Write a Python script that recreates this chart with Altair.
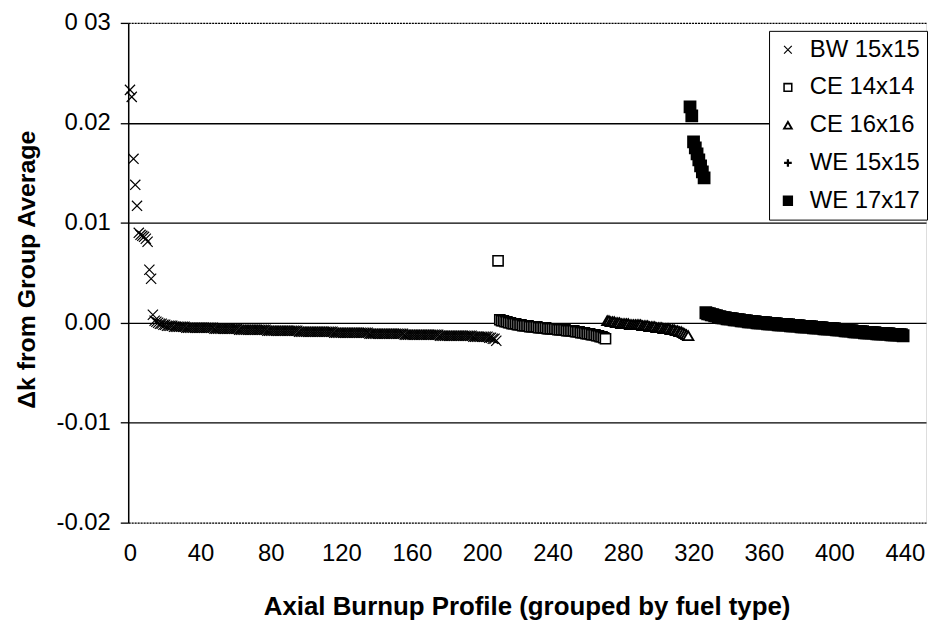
import altair as alt
import pandas as pd

series_names = ["BW 15x15", "CE 14x14", "CE 16x16", "WE 15x15", "WE 17x17"]

# BW 15x15: profiles 0..208
bw_start = 0
bw_values = [
    0.0233, 0.0226, 0.0164, 0.0138, 0.0117, 0.0090, 0.0088, 0.0087, 0.0086, 0.0084,
    0.0081, 0.0053, 0.0044, 0.0008,
    0.0002, 0.0001, 0.0000, -0.0001, -0.0001, -0.0002, -0.0002, -0.0003, -0.0003, -0.0003,
    -0.0003, -0.0004, -0.0004, -0.0004, -0.0004, -0.0004, -0.0004, -0.0004, -0.0005, -0.0005,
    -0.0005, -0.0005, -0.0005, -0.0005, -0.0005, -0.0005, -0.0005, -0.0005, -0.0005, -0.0005,
    -0.0005, -0.0005, -0.0005, -0.0005, -0.0006, -0.0006, -0.0006, -0.0006, -0.0006, -0.0006,
    -0.0006, -0.0006, -0.0006, -0.0006, -0.0006, -0.0006, -0.0006, -0.0006, -0.0007, -0.0007,
    -0.0007, -0.0007, -0.0007, -0.0007, -0.0007, -0.0007, -0.0007, -0.0007, -0.0007, -0.0007,
    -0.0007, -0.0007, -0.0007, -0.0007, -0.0008, -0.0008, -0.0008, -0.0008, -0.0008, -0.0008,
    -0.0008, -0.0008, -0.0008, -0.0008, -0.0008, -0.0008, -0.0008, -0.0008, -0.0008, -0.0008,
    -0.0008, -0.0008, -0.0009, -0.0009, -0.0009, -0.0009, -0.0009, -0.0009, -0.0009, -0.0009,
    -0.0009, -0.0009, -0.0009, -0.0009, -0.0009, -0.0009, -0.0009, -0.0009, -0.0009, -0.0009,
    -0.0009, -0.0009, -0.0010, -0.0010, -0.0010, -0.0010, -0.0010, -0.0010, -0.0010, -0.0010,
    -0.0010, -0.0010, -0.0010, -0.0010, -0.0010, -0.0010, -0.0010, -0.0010, -0.0010, -0.0010,
    -0.0010, -0.0010, -0.0011, -0.0011, -0.0011, -0.0011, -0.0011, -0.0011, -0.0011, -0.0011,
    -0.0011, -0.0011, -0.0011, -0.0011, -0.0011, -0.0011, -0.0011, -0.0011, -0.0011, -0.0011,
    -0.0011, -0.0011, -0.0012, -0.0012, -0.0012, -0.0012, -0.0012, -0.0012, -0.0012, -0.0012,
    -0.0012, -0.0012, -0.0012, -0.0012, -0.0012, -0.0012, -0.0012, -0.0012, -0.0012, -0.0012,
    -0.0012, -0.0012, -0.0013, -0.0013, -0.0013, -0.0013, -0.0013, -0.0013, -0.0013, -0.0013,
    -0.0013, -0.0013, -0.0013, -0.0013, -0.0013, -0.0013, -0.0013, -0.0013, -0.0013, -0.0013,
    -0.0013, -0.0014, -0.0014, -0.0014, -0.0014, -0.0014, -0.0014, -0.0014, -0.0014, -0.0014,
    -0.0015, -0.0015, -0.0016, -0.0016,
    -0.0018,
]

# CE 14x14: profiles 209..270
ce14_start = 209
ce14_values = [
    0.0062,
    0.0003, 0.0002, 0.0002, 0.0001, 0.0001, 0.0000, 0.0000, -0.0001, -0.0001, -0.0001,
    -0.0002, -0.0002, -0.0002, -0.0003, -0.0003, -0.0003, -0.0003, -0.0004, -0.0004, -0.0004,
    -0.0004, -0.0004, -0.0005, -0.0005, -0.0005, -0.0005, -0.0005, -0.0006, -0.0006, -0.0006,
    -0.0006, -0.0006, -0.0006, -0.0007, -0.0007, -0.0007, -0.0007, -0.0007, -0.0008, -0.0008,
    -0.0008, -0.0008, -0.0008, -0.0009, -0.0009, -0.0009, -0.0010, -0.0010, -0.0010, -0.0011,
    -0.0011, -0.0011, -0.0012, -0.0012, -0.0012, -0.0013, -0.0013, -0.0014, -0.0014, -0.0015,
    -0.0016,
]

# CE 16x16: profiles 271..317
ce16_start = 271
ce16_values = [
    0.0002, 0.0002, 0.0001, 0.0001, 0.0001, 0.0000, 0.0000, 0.0000, -0.0001, -0.0001,
    -0.0001, -0.0001, -0.0001, -0.0002, -0.0002, -0.0002, -0.0002, -0.0002, -0.0002, -0.0002,
    -0.0003, -0.0003, -0.0003, -0.0003, -0.0004, -0.0004, -0.0004, -0.0004, -0.0005, -0.0005,
    -0.0005, -0.0005, -0.0006, -0.0006, -0.0006, -0.0006, -0.0007, -0.0007, -0.0007, -0.0008,
    -0.0008, -0.0009, -0.0009, -0.0010, -0.0011, -0.0012, -0.0013,
]

# WE 15x15: no profiles visible in this group
we15_start = 318
we15_values = []

# WE 17x17: profiles 318..439
we17_start = 318
we17_values = [
    0.0216, 0.0207, 0.0181, 0.0175, 0.0169, 0.0163, 0.0157, 0.0151, 0.0145,
    0.0010, 0.0009, 0.0009, 0.0008, 0.0008, 0.0007, 0.0007, 0.0006, 0.0006, 0.0005,
    0.0005, 0.0005, 0.0004, 0.0004, 0.0004, 0.0004, 0.0003, 0.0003, 0.0003, 0.0003,
    0.0002, 0.0002, 0.0002, 0.0002, 0.0001, 0.0001, 0.0001, 0.0001, 0.0001, 0.0000,
    0.0000, 0.0000, 0.0000, 0.0000, 0.0000, -0.0001, -0.0001, -0.0001, -0.0001, -0.0001,
    -0.0001, -0.0002, -0.0002, -0.0002, -0.0002, -0.0002, -0.0002, -0.0002, -0.0003, -0.0003,
    -0.0003, -0.0003, -0.0003, -0.0003, -0.0004, -0.0004, -0.0004, -0.0004, -0.0004, -0.0004,
    -0.0004, -0.0005, -0.0005, -0.0005, -0.0005, -0.0005, -0.0005, -0.0006, -0.0006, -0.0006,
    -0.0006, -0.0006, -0.0006, -0.0006, -0.0007, -0.0007, -0.0007, -0.0007, -0.0007, -0.0008,
    -0.0008, -0.0008, -0.0008, -0.0008, -0.0009, -0.0009, -0.0009, -0.0009, -0.0009, -0.0009,
    -0.0010, -0.0010, -0.0010, -0.0010, -0.0010, -0.0010, -0.0010, -0.0011, -0.0011, -0.0011,
    -0.0011, -0.0011, -0.0011, -0.0011, -0.0011, -0.0012, -0.0012, -0.0012, -0.0012, -0.0012,
    -0.0012, -0.0012, -0.0013,
]

y_ticks = [-0.02, -0.01, 0.0, 0.01, 0.02, 0.03]
x_ticks = [0, 40, 80, 120, 160, 200, 240, 280, 320, 360, 400, 440]

rows = []
for name, start, vals in [
    ("BW 15x15", bw_start, bw_values),
    ("CE 14x14", ce14_start, ce14_values),
    ("CE 16x16", ce16_start, ce16_values),
    ("WE 15x15", we15_start, we15_values),
    ("WE 17x17", we17_start, we17_values),
]:
    for i, v in enumerate(vals):
        rows.append({"profile": start + i, "dk": v, "series": name})
df = pd.DataFrame(rows)

shape_range = ["M-1,-1L1,1M1,-1L-1,1", "square", "triangle-up", "M-1,0L1,0M0,-1L0,1", "square"]
fill_range = ["transparent", "white", "white", "transparent", "black"]
stroke_range = ["black", "black", "black", "black", "black"]
width_range = [1.2, 2.6, 2.6, 1.6, 1.6]

FONT = "Liberation Sans"

legend = alt.Legend(
    title=None, orient="none", legendX=645, legendY=8,
    strokeColor="black", fillColor="white", padding=7,
    labelFontSize=24, labelFont=FONT, labelColor="black", labelOffset=10,
    symbolSize=60, symbolStrokeColor="black", symbolStrokeWidth=1.5,
    rowPadding=14, labelLimit=300,
)

chart = alt.Chart(df).mark_point(filled=False, size=105, opacity=1).encode(
    x=alt.X("profile:Q",
            scale=alt.Scale(domain=[-1, 452], nice=False, zero=False),
            axis=alt.Axis(values=x_ticks, grid=False, domain=False, ticks=False,
                          labelFontSize=24, labelFont=FONT, labelColor="black",
                          labelPadding=19, labelFlush=False, labelOverlap=False,
                          title="Axial Burnup Profile (grouped by fuel type)",
                          titleFontSize=26, titleFont=FONT, titleFontWeight="bold",
                          titleColor="black", titleX=401, titleY=71,
                          titleAlign="center", titleBaseline="top")),
    y=alt.Y("dk:Q",
            scale=alt.Scale(domain=[-0.02, 0.03], nice=False, zero=False),
            axis=alt.Axis(values=y_ticks,
                          labelExpr="datum.value > 0.025 ? '0 03' : (datum.value < -0.00001 ? '-' + format(abs(datum.value), '.2f') : format(abs(datum.value), '.2f'))",
                          grid=True, gridColor="black", gridWidth=1.3,
                          gridDash={"condition": {"test": "datum.value > 0.025 || datum.value < -0.015", "value": [2, 1]}, "value": []},
                          domain=True, domainColor="black", domainWidth=1.5,
                          ticks=True, tickColor="black", tickSize=8, tickWidth=1.3,
                          labelFontSize=24, labelFont=FONT, labelColor="black",
                          labelPadding=10,
                          title="\u0394k from Group Average",
                          titleFontSize=25, titleFont=FONT, titleFontWeight="bold",
                          titleColor="black", titleAngle=270, titleX=-102, titleY=248,
                          titleAlign="center", titleBaseline="middle")),
    shape=alt.Shape("series:N", scale=alt.Scale(domain=series_names, range=shape_range), legend=legend),
    fill=alt.Fill("series:N", scale=alt.Scale(domain=series_names, range=fill_range), legend=legend),
    stroke=alt.Stroke("series:N", scale=alt.Scale(domain=series_names, range=stroke_range), legend=legend),
    strokeWidth=alt.StrokeWidth("series:N", scale=alt.Scale(domain=series_names, range=width_range), legend=None),
).properties(
    width=803, height=503,
    autosize=alt.AutoSizeParams(type="none"),
    padding={"left": 121, "top": 13, "right": 2, "bottom": 98},
).configure_view(stroke=None).configure(font=FONT)

chart.save("out.html", embed_options={"renderer": "svg", "actions": False})
